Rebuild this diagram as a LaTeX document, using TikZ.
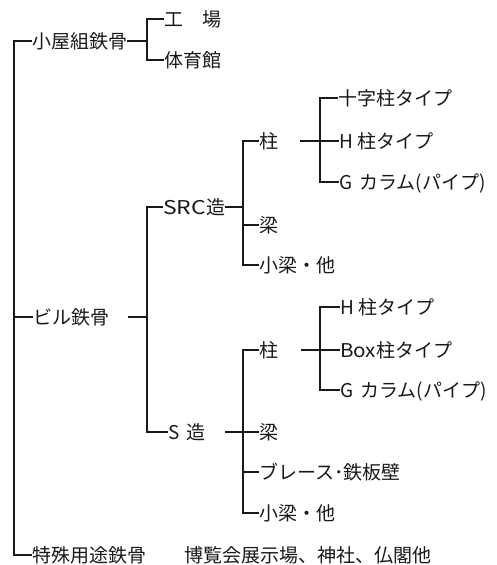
\documentclass[tikz,border=0pt]{standalone}
\usepackage{graphicx}
\usepackage{fontspec}
\setmainfont{Noto Sans CJK JP}
\begin{document}
\begin{tikzpicture}[x=1pt,y=-1pt,
  lbl/.style={anchor=west, inner sep=0pt, text height=15.8pt, text depth=1.3pt,
              font=\fontsize{19}{21}\selectfont, text=black!90},
  ln/.style={line width=1.15pt, black!90}]
\useasboundingbox (0,0) rectangle (497,565);
% level 0
\node[lbl] (koya) at (32,41)  {小屋組鉄骨};
\node[lbl] (biru) at (33,317) {ビル鉄骨};
\node[lbl] (toku) at (32,555) {特殊用途鉄骨};
\node[lbl] (haku) at (184,555) {博覧会展示場、神社、仏閣他};
% koya children
\node[lbl] (kojo) at (164,19) {工　場};
\node[lbl] (tai)  at (164,60) {体育館};
% biru children
\node[lbl] (src) at (163,207) {\resizebox{43pt}{\height}{SRC}造};
\node[lbl] (sz)  at (168,432) {\makebox[18pt][l]{S}造};
% SRC children
\node[lbl] (ch1) at (259,141) {柱};
\node[lbl] (hr1) at (259,225) {梁};
\node[lbl] (kb1) at (259,265) {小梁・他};
\node[lbl] (jj)  at (338,98)  {十字柱タイプ};
\node[lbl] (h1)  at (339,141) {\makebox[18pt][l]{H}柱タイプ};
\node[lbl] (g1)  at (339,182) {\makebox[20pt][l]{G}カラム(パイプ)};
% S children
\node[lbl] (ch2) at (259,350) {柱};
\node[lbl] (hr2) at (259,432) {梁};
\node[lbl] (br2) at (259,472) {ブレース･鉄板壁};
\node[lbl] (kb2) at (259,513) {小梁・他};
\node[lbl] (h2)  at (340,307) {\makebox[18pt][l]{H}柱タイプ};
\node[lbl] (bx2) at (340,350) {\resizebox{36pt}{\height}{Box}柱タイプ};
\node[lbl] (g2)  at (340,390) {\makebox[20pt][l]{G}カラム(パイプ)};
% junction coordinates
\coordinate (rx) at (14,0);
\coordinate (kx) at (147,0);
\coordinate (vx) at (243,0);
\coordinate (wx) at (320,0);
\coordinate (bs) at (128,317);
\coordinate (szs) at (225,432);
\coordinate (c1s) at (300,141);
\coordinate (c2s) at (301,350);
% connectors
\draw[ln] (koya.west) -- (koya.west -| rx) |- (toku.west);
\draw[ln] (biru.west) -- (biru.west -| rx);
\draw[ln] (koya.east) -- (koya.east -| kx);
\draw[ln] (kojo.west) -- (kojo.west -| kx) |- (tai.west);
\draw[ln] (bs) -- (bs -| kx);
\draw[ln] (src.west) -- (src.west -| kx) |- (sz.west);
\draw[ln] (src.east) -- (src.east -| vx);
\draw[ln] (ch1.west) -- (ch1.west -| vx) |- (kb1.west);
\draw[ln] (hr1.west) -- (hr1.west -| vx);
\draw[ln] (c1s) -- (c1s -| wx);
\draw[ln] (jj.west) -- (jj.west -| wx) |- (g1.west);
\draw[ln] (h1.west) -- (h1.west -| wx);
\draw[ln] (szs) -- (hr2.west);
\draw[ln] (ch2.west) -- (ch2.west -| vx) |- (kb2.west);
\draw[ln] (br2.west) -- (br2.west -| vx);
\draw[ln] (c2s) -- (c2s -| wx);
\draw[ln] (h2.west) -- (h2.west -| wx) |- (g2.west);
\draw[ln] (bx2.west) -- (bx2.west -| wx);
\end{tikzpicture}
\end{document}
